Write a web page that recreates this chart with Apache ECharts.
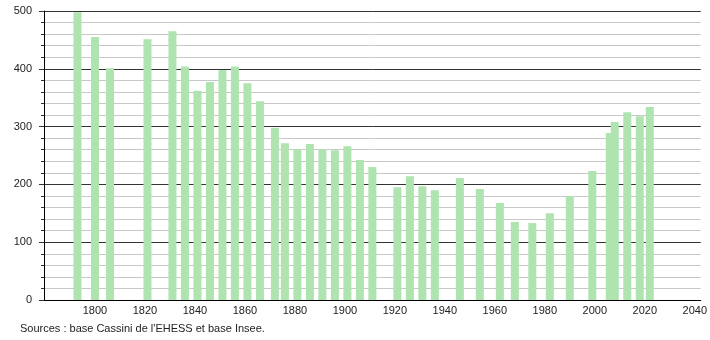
<!DOCTYPE html>
<html>
<head>
<meta charset="utf-8">
<script src="https://cdn.jsdelivr.net/npm/echarts@6/dist/echarts.min.js"></script>
<style>
html,body{margin:0;padding:0;background:#fff;}
#c{width:710px;height:340px;}
</style>
</head>
<body>
<div id="c"></div>
<script>
const years = [1793,1800,1806,1821,1831,1836,1841,1846,1851,1856,1861,1866,1872,1876,1881,1886,1891,1896,1901,1906,1911,1921,1926,1931,1936,1946,1954,1962,1968,1975,1982,1990,1999,2006,2008,2013,2018,2022];
const population = [498,455,401,451,465,404,362,377,398,404,375,344,298,271,261,270,261,259,266,242,230,195,214,197,190,211,192,168,135,133,150,180,223,289,308,325,318,334];
const xTickLabels = [1800,1820,1840,1860,1880,1900,1920,1940,1960,1980,2000,2020,2040];
const yTickLabels = [0,100,200,300,400,500];
const sourceText = "Sources : base Cassini de l'EHESS et base Insee.";

const font = '"Liberation Sans", Arial, sans-serif';
const chart = echarts.init(document.getElementById('c'));
chart.setOption({
  animation: false,
  backgroundColor: '#fff',
  grid: { left: 44, right: 9, top: 11, bottom: 40, containLabel: false },
  graphic: [{
    type: 'text', left: 20, top: 323,
    style: { text: sourceText, fill: '#222', font: '11px ' + font }
  }],
  xAxis: {
    type: 'value', min: 1779.6, max: 2042.4,
    axisLine: { show: true, lineStyle: { color: '#000', width: 1 } },
    axisTick: { show: false },
    splitLine: { show: false },
    axisLabel: {
      color: '#222', fontSize: 11, fontFamily: font, margin: 5,
      customValues: xTickLabels,
      formatter: v => String(Math.round(v))
    }
  },
  yAxis: {
    type: 'value', min: 0, max: 500, interval: 100,
    axisLine: { show: true, lineStyle: { color: '#000', width: 1 } },
    axisTick: { show: true, length: 5, lineStyle: { color: '#333' } },
    minorTick: { show: true, splitNumber: 5, length: 3, lineStyle: { color: '#333' } },
    splitLine: { show: true, lineStyle: { color: '#333', width: 1 } },
    minorSplitLine: { show: true, lineStyle: { color: '#c8c8c8', width: 1 } },
    axisLabel: {
      color: '#222', fontSize: 11, fontFamily: font, margin: 12,
      formatter: v => yTickLabels.indexOf(v) >= 0 ? String(v) : ''
    }
  },
  series: [{
    type: 'bar',
    barWidth: 8,
    itemStyle: { color: '#afe3af' },
    data: years.map((y, i) => [y, population[i]])
  }]
});
</script>
</body>
</html>
